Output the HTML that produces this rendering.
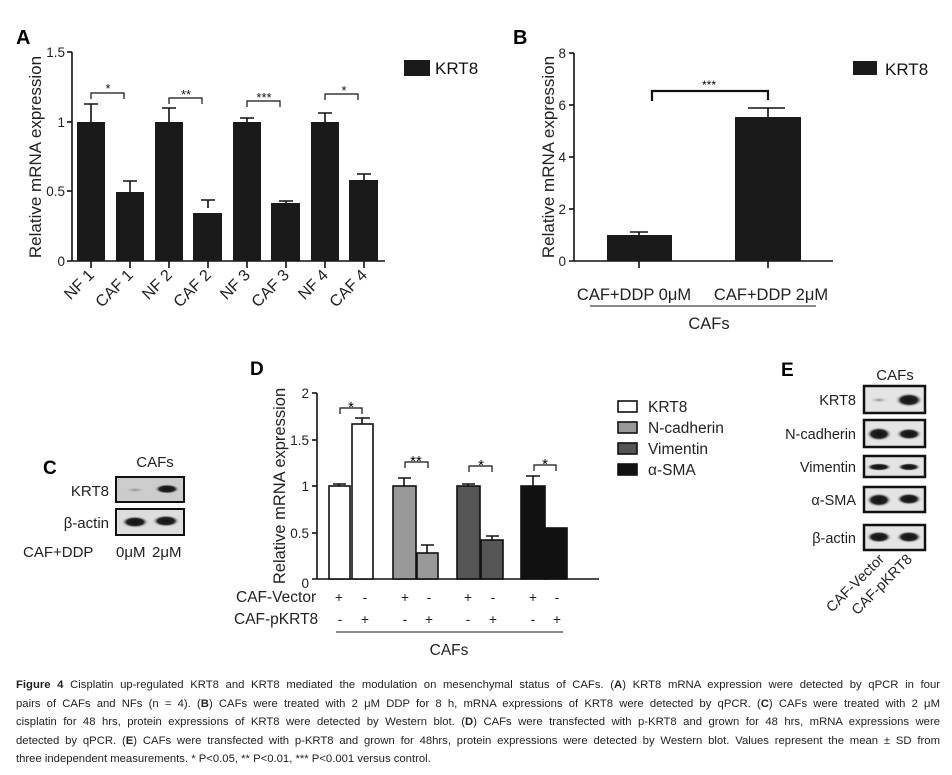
<!DOCTYPE html>
<html><head><meta charset="utf-8"><style>
body{margin:0;background:#fff;width:952px;height:775px;overflow:hidden;position:relative;font-family:"Liberation Sans",sans-serif}
svg{position:absolute;left:0;top:0}
.cap{position:absolute;left:16px;top:676px;width:924px;font-family:"Liberation Sans Narrow","Liberation Sans",sans-serif;font-size:11.3px;line-height:18.6px;color:#222}
.cap div{text-align:justify;text-align-last:justify;white-space:nowrap}
.cap div.l{text-align-last:left}
</style></head><body>
<svg width="952" height="670" viewBox="0 0 952 670" font-family="Liberation Sans, sans-serif">
<defs>
<radialGradient id="band" cx="50%" cy="50%" r="50%"><stop offset="0" stop-color="#111"/><stop offset="0.6" stop-color="#222"/><stop offset="1" stop-color="#ddd" stop-opacity="0"/></radialGradient>
<radialGradient id="faint" cx="50%" cy="50%" r="50%"><stop offset="0" stop-color="#888"/><stop offset="1" stop-color="#ddd" stop-opacity="0"/></radialGradient>
</defs>
<!-- Panel A -->
<text x="16" y="44" font-size="20" font-weight="bold">A</text>
<g stroke="#111" stroke-width="1.6" fill="none">
<line x1="72" y1="52" x2="72" y2="261"/><line x1="67" y1="261" x2="385" y2="261"/>
<line x1="67" y1="52" x2="72" y2="52"/><line x1="67" y1="122" x2="72" y2="122"/><line x1="67" y1="191" x2="72" y2="191"/>
<line x1="91" y1="261" x2="91" y2="268"/><line x1="130" y1="261" x2="130" y2="268"/><line x1="169" y1="261" x2="169" y2="268"/><line x1="208" y1="261" x2="208" y2="268"/><line x1="247" y1="261" x2="247" y2="268"/><line x1="286" y1="261" x2="286" y2="268"/><line x1="325" y1="261" x2="325" y2="268"/><line x1="364" y1="261" x2="364" y2="268"/>
<path d="M91 122V104M84 104H98M130 194V181M123 181H137M169 122V108M162 108H176M208 208V200M201 200H215M247 122V118M240 118H254M286 203V201M279 201H293M325 122V113M318 113H332M364 180V174M357 174H371"/>
<path d="M91 99V93H124V99M169 104V98H202V104M247 107V101H280V107M325 100V94H358V100" stroke-width="1.2"/>
</g>
<g fill="#1a1a1a">
<rect x="77" y="122" width="28" height="139"/><rect x="116" y="192" width="28" height="69"/>
<rect x="155" y="122" width="28" height="139"/><rect x="193" y="213" width="29" height="48"/>
<rect x="233" y="122" width="28" height="139"/><rect x="271" y="203" width="29" height="58"/>
<rect x="311" y="122" width="28" height="139"/><rect x="349" y="180" width="29" height="81"/>
<rect x="404" y="60" width="26" height="16"/>
</g>
<g font-size="13" fill="#111" text-anchor="middle">
<text x="108" y="93">*</text><text x="186" y="99">**</text><text x="264" y="102">***</text><text x="344" y="95">*</text>
</g>
<g font-size="13.5" fill="#222" text-anchor="end">
<text x="65" y="57">1.5</text><text x="65" y="127">1</text><text x="65" y="196">0.5</text><text x="65" y="266">0</text>
</g>
<text transform="translate(41,157) rotate(-90)" font-size="17" text-anchor="middle" fill="#222">Relative mRNA expression</text>
<text x="435" y="74" font-size="17" fill="#111">KRT8</text>
<g font-size="16" fill="#222" text-anchor="end">
<text transform="translate(95,276) rotate(-45)">NF 1</text><text transform="translate(134,276) rotate(-45)">CAF 1</text>
<text transform="translate(173,276) rotate(-45)">NF 2</text><text transform="translate(212,276) rotate(-45)">CAF 2</text>
<text transform="translate(251,276) rotate(-45)">NF 3</text><text transform="translate(290,276) rotate(-45)">CAF 3</text>
<text transform="translate(329,276) rotate(-45)">NF 4</text><text transform="translate(368,276) rotate(-45)">CAF 4</text>
</g>
<!-- Panel B -->
<text x="513" y="44" font-size="20" font-weight="bold">B</text>
<g stroke="#111" stroke-width="1.6" fill="none">
<line x1="574" y1="53" x2="574" y2="261"/><line x1="569" y1="261" x2="833" y2="261"/>
<line x1="569" y1="53" x2="574" y2="53"/><line x1="569" y1="105" x2="574" y2="105"/><line x1="569" y1="157" x2="574" y2="157"/><line x1="569" y1="209" x2="574" y2="209"/>
<line x1="639" y1="261" x2="639" y2="268"/><line x1="768" y1="261" x2="768" y2="268"/>
<path d="M639 235V232M630 232H648M768 117V108M748 108H785"/>
<path d="M652 101V91H768V100" stroke-width="2.2"/>
<line x1="590" y1="306" x2="816" y2="306" stroke-width="1"/>
</g>
<rect x="607" y="235" width="65" height="26" fill="#1a1a1a"/><rect x="735" y="117" width="66" height="144" fill="#1a1a1a"/>
<rect x="853" y="61" width="24" height="14" fill="#1a1a1a"/>
<text x="709" y="89" font-size="12" text-anchor="middle">***</text>
<g font-size="13.5" fill="#222" text-anchor="end">
<text x="566" y="58">8</text><text x="566" y="110">6</text><text x="566" y="162">4</text><text x="566" y="214">2</text><text x="566" y="266">0</text>
</g>
<text transform="translate(554,157) rotate(-90)" font-size="17" text-anchor="middle" fill="#222">Relative mRNA expression</text>
<text x="885" y="75" font-size="17" fill="#111">KRT8</text>
<g font-size="16.5" fill="#222" text-anchor="middle">
<text x="634" y="300">CAF+DDP 0μM</text><text x="771" y="300">CAF+DDP 2μM</text><text x="709" y="329">CAFs</text>
</g>
<!-- Panel C -->
<text x="43" y="474" font-size="19" font-weight="bold">C</text>
<text x="155" y="467" font-size="15" text-anchor="middle" fill="#222">CAFs</text>
<rect x="116" y="477" width="68" height="25" fill="#ccc" stroke="#111" stroke-width="2"/>
<ellipse cx="135" cy="490" rx="12" ry="3" fill="url(#faint)"/><ellipse cx="167" cy="489" rx="13" ry="5" fill="url(#band)"/>
<rect x="116" y="509" width="68" height="26" fill="#ddd" stroke="#111" stroke-width="2"/>
<ellipse cx="135" cy="522" rx="14" ry="6" fill="url(#band)"/><ellipse cx="166" cy="521" rx="14" ry="6" fill="url(#band)"/>
<g font-size="15" fill="#222">
<text x="109" y="496" text-anchor="end">KRT8</text><text x="109" y="528" text-anchor="end">β-actin</text>
<text x="23" y="557">CAF+DDP</text><text x="116" y="557">0μM</text><text x="152" y="557">2μM</text>
</g>
<!-- Panel D -->
<text x="250" y="375" font-size="19" font-weight="bold">D</text>
<g stroke="#111" stroke-width="1.6">
<line x1="317" y1="393" x2="317" y2="579"/><line x1="312" y1="579" x2="599" y2="579"/>
<line x1="312" y1="393" x2="317" y2="393"/><line x1="312" y1="440" x2="317" y2="440"/><line x1="312" y1="486" x2="317" y2="486"/><line x1="312" y1="533" x2="317" y2="533"/>
</g>
<g stroke="#111" stroke-width="1.6">
<rect x="329" y="486" width="21" height="93" fill="#fff"/><rect x="352" y="424" width="21" height="155" fill="#fff"/>
<rect x="393" y="486" width="23" height="93" fill="#999"/><rect x="417" y="553" width="21" height="26" fill="#999"/>
<rect x="457" y="486" width="23" height="93" fill="#555"/><rect x="481" y="540" width="22" height="39" fill="#555"/>
<rect x="521" y="486" width="24" height="93" fill="#111"/><rect x="545" y="528" width="22" height="51" fill="#111"/>
</g>
<g stroke="#111" stroke-width="1.6" fill="none">
<path d="M339 486V484M333 484H346M362 424V418M355 418H370M404 486V478M398 478H411M427 553V545M421 545H434M468 486V484M462 484H475M492 540V536M486 536H499M533 486V476M526 476H540"/>
<path d="M340 414V408H362V414M405 468V462H428V468M469 472V466H492V472M534 471V465H556V471" stroke-width="1.2"/>
<line x1="336" y1="632" x2="563" y2="632" stroke-width="1"/>
</g>
<g font-size="15" text-anchor="middle"><text x="351" y="412">*</text><text x="416" y="466">**</text><text x="481" y="470">*</text><text x="545" y="469">*</text></g>
<g font-size="13.5" fill="#222" text-anchor="end">
<text x="309" y="398">2</text><text x="309" y="445">1.5</text><text x="309" y="491">1</text><text x="309" y="538">0.5</text><text x="309" y="588">0</text>
</g>
<text transform="translate(285,486) rotate(-90)" font-size="16.5" text-anchor="middle" fill="#222">Relative mRNA expression</text>
<g stroke="#111" stroke-width="1.6"><rect x="618" y="401" width="19" height="11" fill="#fff"/><rect x="618" y="422" width="19" height="11" fill="#999"/><rect x="618" y="443" width="19" height="11" fill="#555"/><rect x="618" y="464" width="19" height="11" fill="#111"/></g>
<g font-size="15.5" fill="#222"><text x="648" y="412">KRT8</text><text x="648" y="433">N-cadherin</text><text x="648" y="454">Vimentin</text><text x="648" y="475">α-SMA</text></g>
<g font-size="15.5" fill="#222">
<text x="236" y="602">CAF-Vector</text><text x="234" y="624">CAF-pKRT8</text>
<text x="449" y="655" text-anchor="middle">CAFs</text>
</g>
<g font-size="14" fill="#222" text-anchor="middle">
<text x="339" y="602">+</text><text x="365" y="602">-</text><text x="405" y="602">+</text><text x="429" y="602">-</text><text x="468" y="602">+</text><text x="493" y="602">-</text><text x="533" y="602">+</text><text x="557" y="602">-</text>
<text x="340" y="624">-</text><text x="365" y="624">+</text><text x="405" y="624">-</text><text x="429" y="624">+</text><text x="468" y="624">-</text><text x="493" y="624">+</text><text x="533" y="624">-</text><text x="557" y="624">+</text>
</g>
<!-- Panel E -->
<text x="781" y="376" font-size="19" font-weight="bold">E</text>
<text x="895" y="380" font-size="15" text-anchor="middle" fill="#222">CAFs</text>
<g stroke="#111" stroke-width="2.5" fill="#e4e4e4">
<rect x="864" y="386" width="61" height="27"/><rect x="864" y="420" width="61" height="27"/><rect x="864" y="456" width="61" height="21"/><rect x="864" y="487" width="61" height="25"/><rect x="864" y="525" width="61" height="25"/>
</g>
<ellipse cx="879" cy="400" rx="10" ry="3" fill="url(#faint)"/><ellipse cx="909" cy="400" rx="14" ry="7" fill="url(#band)"/>
<ellipse cx="879" cy="434" rx="13" ry="7" fill="url(#band)"/><ellipse cx="909" cy="434" rx="13" ry="6" fill="url(#band)"/>
<ellipse cx="879" cy="467" rx="13" ry="4" fill="url(#band)"/><ellipse cx="909" cy="467" rx="12" ry="4" fill="url(#band)"/>
<ellipse cx="879" cy="500" rx="13" ry="7" fill="url(#band)"/><ellipse cx="909" cy="499" rx="13" ry="6" fill="url(#band)"/>
<ellipse cx="879" cy="537" rx="13" ry="6" fill="url(#band)"/><ellipse cx="909" cy="537" rx="13" ry="6" fill="url(#band)"/>
<g font-size="14.5" fill="#222" text-anchor="end">
<text x="856" y="405">KRT8</text><text x="856" y="439">N-cadherin</text><text x="856" y="472">Vimentin</text><text x="856" y="505">α-SMA</text><text x="856" y="543">β-actin</text>
<text transform="translate(885,560) rotate(-45)">CAF-Vector</text><text transform="translate(913,560) rotate(-45)">CAF-pKRT8</text>
</g>
</svg>
<div class="cap">
<div><b>Figure 4</b> Cisplatin up-regulated KRT8 and KRT8 mediated the modulation on mesenchymal status of CAFs. (<b>A</b>) KRT8 mRNA expression were detected by qPCR in four</div>
<div>pairs of CAFs and NFs (n = 4). (<b>B</b>) CAFs were treated with 2 μM DDP for 8 h, mRNA expressions of KRT8 were detected by qPCR. (<b>C</b>) CAFs were treated with 2 μM</div>
<div>cisplatin for 48 hrs, protein expressions of KRT8 were detected by Western blot. (<b>D</b>) CAFs were transfected with p-KRT8 and grown for 48 hrs, mRNA expressions were</div>
<div>detected by qPCR. (<b>E</b>) CAFs were transfected with p-KRT8 and grown for 48hrs, protein expressions were detected by Western blot. Values represent the mean ± SD from</div>
<div class="l">three independent measurements. * P&lt;0.05, ** P&lt;0.01, *** P&lt;0.001 versus control.</div>
</div>
</body></html>
